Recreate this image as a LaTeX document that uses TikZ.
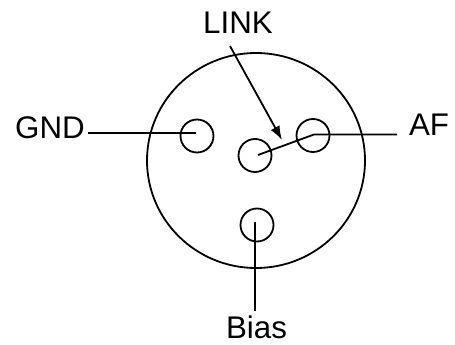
\documentclass[tikz,border=0pt]{standalone}
\usepackage{fontspec}
\setmainfont{Liberation Sans}
\usetikzlibrary{arrows.meta}
\begin{document}
\begin{tikzpicture}[x=1pt,y=-1pt,
 wire/.style={draw=black,line width=1.8pt},
 pin/.style={circle,draw=black,line width=1.8pt,minimum size=33pt,inner sep=0pt},
 lab/.style={inner sep=0pt,anchor=base,font=\fontsize{31.3}{31.3}\selectfont,text=black}]
\useasboundingbox (0,0) rectangle (455,345);
\draw[wire] (256,160.5) ellipse (109 and 107.5);
\node[pin] (g) at (197,136) {};
\node[pin] (a) at (313,135.5) {};
\node[pin] (l) at (255,155.5) {};
\node[pin] (b) at (257,225) {};
\node[lab] (gnd) at (50,138) {GND};
\node[lab] (af) at (429,135) {AF};
\node[lab] (link) at (238,34) {LINK};
\node[lab] (bias) at (256.5,338.5) {Bias};
\coordinate (gndend) at (88,133);
\coordinate (gc) at (196,133);
\coordinate (afend) at (397,134.5);
\coordinate (ac) at (314,134.5);
\coordinate (lc) at (258,155);
\coordinate (bc) at (255,222);
\coordinate (bend) at (255,311);
\coordinate (linkstart) at (230,46);
\coordinate (linkend) at (282,140);
\draw[wire] (gndend) -- (gc);
\draw[wire] (lc) -- (ac) -- (afend);
\draw[wire] (bc) -- (bend);
\draw[wire,-{Latex[length=14pt,width=10pt]}] (linkstart) -- (linkend);
\end{tikzpicture}
\end{document}
